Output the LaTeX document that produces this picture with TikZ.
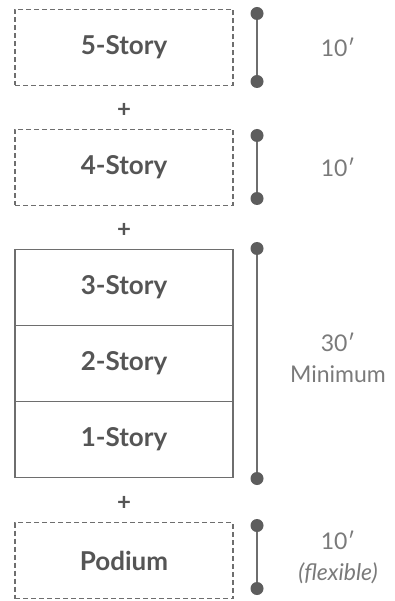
\documentclass[tikz,border=0pt]{standalone}
\usepackage{fontspec}
\setmainfont{Lato}
\usepackage{tikz}
\usetikzlibrary{positioning}
\definecolor{boxgray}{HTML}{6E6E6E}
\definecolor{textgray}{HTML}{555555}
\definecolor{notegray}{HTML}{7A7A7A}
\tikzset{
  floor/.style={draw=boxgray, line width=1.6pt, outer sep=0pt, minimum width=218pt, minimum height=76pt,
    text=textgray, font=\fontsize{26}{30}\selectfont\bfseries},
  optfloor/.style={floor, dash pattern=on 5pt off 3pt},
  plus/.style={text=textgray, font=\fontsize{24}{28}\selectfont\bfseries},
  bar/.style={draw=boxgray, line width=2.6pt},
  dot/.style={fill=boxgray!85!black},
  note/.style={text=notegray, align=center, font=\fontsize{23}{31}\selectfont}
}
\begin{document}
\begin{tikzpicture}[x=1pt,y=-1pt]
\useasboundingbox (0,0) rectangle (395,601);

\node[optfloor] (s5) at (124,47.5) {5-Story};
\node[optfloor, below=44pt of s5] (s4) {4-Story};
\node[floor, below=44pt of s4] (s3) {3-Story};
\node[floor, below=0pt of s3] (s2) {2-Story};
\node[floor, below=0pt of s2] (s1) {1-Story};
\node[optfloor, below=45pt of s1] (pod) {Podium};

\node[plus, below=14pt of s5] (p5) {+};
\node[plus, below=14pt of s4] (p4) {+};
\node[plus, below=15pt of s1] (p1) {+};

% height bars
\coordinate (t5) at ([xshift=24pt,yshift=-4pt]s5.north east);
\coordinate (b5) at ([xshift=24pt,yshift=4pt]s5.south east);
\coordinate (t4) at ([xshift=24pt,yshift=-6pt]s4.north east);
\coordinate (b4) at ([xshift=24pt,yshift=7pt]s4.south east);
\coordinate (t3) at ([xshift=24pt,yshift=1pt]s3.north east);
\coordinate (b1) at ([xshift=24pt,yshift=-1pt]s1.south east);
\coordinate (tp) at ([xshift=24pt,yshift=-3pt]pod.north east);
\coordinate (bp) at ([xshift=24pt,yshift=10pt]pod.south east);
\foreach \t/\b in {t5/b5, t4/b4, t3/b1, tp/bp} {
  \draw[bar] (\t) -- (\b);
  \fill[dot] (\t) circle [radius=6.5];
  \fill[dot] (\b) circle [radius=6.5];
}

\node[note] (h5) at (338,47) {10′};
\node[note] (h4) at (338,167) {10′};
\node[note] (h3) at (338,358) {30′\\Minimum};
\node[note] (hp) at (338,557) {10′\\\itshape(flexible)};
\end{tikzpicture}
\end{document}
